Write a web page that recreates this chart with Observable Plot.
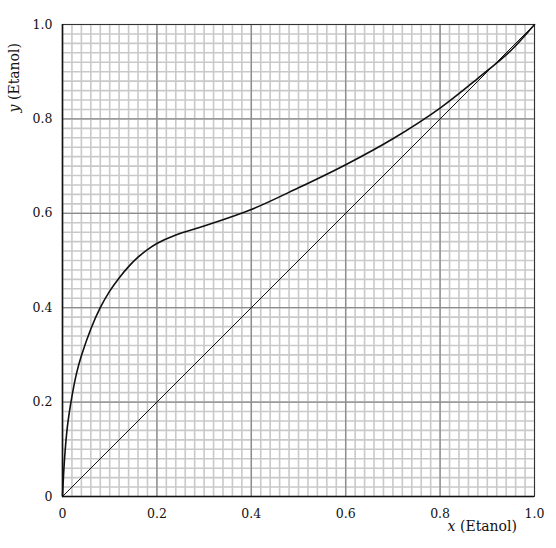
<!DOCTYPE html>
<html>
<head>
<meta charset="utf-8">
<script src="https://cdn.jsdelivr.net/npm/d3@7"></script>
<script src="https://cdn.jsdelivr.net/npm/@observablehq/plot@0.6"></script>
<style>
  html, body { margin: 0; padding: 0; background: #fff; }
  #chart svg { display: block; }
</style>
</head>
<body>
<div id="chart"></div>
<script>
// Equilibrium curve (ethanol–water)
const xLiquid = [0, 0.004, 0.01, 0.02, 0.03, 0.04, 0.06, 0.08, 0.10, 0.12, 0.14, 0.16, 0.18, 0.20, 0.24, 0.30, 0.40, 0.50, 0.60, 0.70, 0.80, 0.88, 0.95, 1.0];
const yVapour = [0, 0.075, 0.145, 0.212, 0.262, 0.298, 0.355, 0.400, 0.435, 0.463, 0.487, 0.507, 0.523, 0.536, 0.554, 0.573, 0.608, 0.654, 0.703, 0.758, 0.823, 0.886, 0.945, 1.0];
// Diagonal y = x
const diagX = [0, 1];
const diagY = [0, 1];
// Ticks
const majorTicks = [0, 0.2, 0.4, 0.6, 0.8, 1.0];
const tickLabels = ["0", "0.2", "0.4", "0.6", "0.8", "1.0"];
const minorTicks = d3.range(51).map(i => i / 50);
const xLabelVar = "x", yLabelVar = "y", labelText = " (Etanol)";

const curve = xLiquid.map((x, i) => ({x, y: yVapour[i]}));
const diag = diagX.map((x, i) => ({x, y: diagY[i]}));
const fmt = d => tickLabels[majorTicks.findIndex(t => Math.abs(t - d) < 1e-9)];

const W = 556, H = 548, mL = 62, mR = 22, mT = 24, mB = 52;

const chart = Plot.plot({
  width: W, height: H,
  marginLeft: mL, marginRight: mR, marginTop: mT, marginBottom: mB,
  x: {domain: [0, 1]},
  y: {domain: [0, 1]},
  style: {fontFamily: "'DejaVu Serif', serif", fontSize: "12.5px", color: "#111", background: "#fff"},
  marks: [
    Plot.ruleX(minorTicks, {stroke: "#c9c9c9", strokeWidth: 1.6}),
    Plot.ruleY(minorTicks, {stroke: "#c9c9c9", strokeWidth: 1.6}),
    Plot.ruleX(majorTicks.slice(1, -1), {stroke: "#8c8c8c", strokeWidth: 1.3}),
    Plot.ruleY(majorTicks.slice(1, -1), {stroke: "#8c8c8c", strokeWidth: 1.3}),
    Plot.frame({stroke: "#333", strokeWidth: 1}),
    Plot.ruleX([0], {stroke: "#111", strokeWidth: 1.6}),
    Plot.ruleY([0], {stroke: "#111", strokeWidth: 1.6}),
    Plot.line(diag, {x: "x", y: "y", stroke: "#111", strokeWidth: 1}),
    Plot.line(curve, {x: "x", y: "y", curve: "catmull-rom", stroke: "#111", strokeWidth: 1.6}),
    Plot.axisX(majorTicks, {tickSize: 0, tickPadding: 13, tickFormat: fmt, label: null}),
    Plot.axisY(majorTicks, {tickSize: 0, tickPadding: 10, tickFormat: fmt, label: null})
  ]
});

const svg = d3.select(chart);
svg.selectAll("g[aria-label='x-axis tick label'] text, g[aria-label='y-axis tick label'] text").attr("fill", "#111");

const xl = svg.append("text")
  .attr("x", W - 39).attr("y", H - 17)
  .attr("text-anchor", "end")
  .attr("font-family", "'DejaVu Serif', serif")
  .attr("font-size", 14).attr("fill", "#111");
xl.append("tspan").attr("font-style", "italic").text(xLabelVar);
xl.append("tspan").text(labelText);

const yl = svg.append("text")
  .attr("transform", `translate(19, ${mT + 19}) rotate(-90)`)
  .attr("text-anchor", "end")
  .attr("font-family", "'DejaVu Serif', serif")
  .attr("font-size", 14).attr("fill", "#111");
yl.append("tspan").attr("font-style", "italic").text(yLabelVar);
yl.append("tspan").text(labelText);

document.getElementById("chart").appendChild(chart);
</script>
</body>
</html>
